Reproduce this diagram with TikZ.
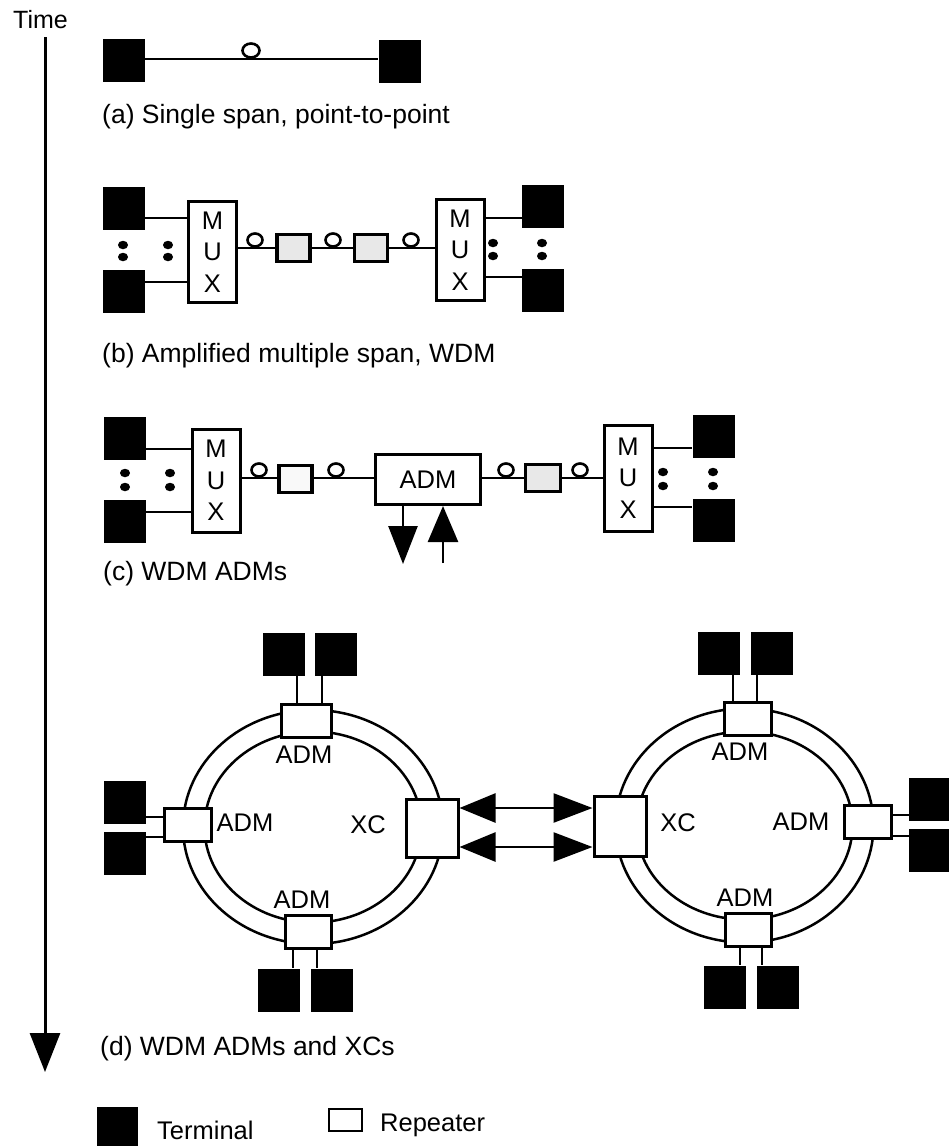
\documentclass[tikz,border=0pt]{standalone}
\usepackage{fontspec}
\setmainfont{Liberation Sans}
\usetikzlibrary{shapes.geometric,arrows.meta}
\begin{document}
\begin{tikzpicture}[x=1pt,y=-1pt,
  term/.style={rectangle,fill=black,inner sep=0pt,minimum width=42pt,minimum height=43pt},
  mux/.style={rectangle,draw,line width=3pt,fill=white,inner sep=0pt,minimum width=48pt,minimum height=101pt,align=center,font=\fontsize{25.5}{31.5}\selectfont},
  rep/.style={rectangle,draw,line width=3.2pt,fill=gray!18,inner sep=0pt,minimum width=33pt,minimum height=27pt},
  nbox/.style={rectangle,draw,line width=3pt,fill=white,inner sep=0pt,minimum width=47pt,minimum height=33pt},
  xcbox/.style={rectangle,draw,line width=3pt,fill=white,inner sep=0pt,minimum width=52pt,minimum height=58pt},
  coil/.style={ellipse,draw,line width=2.6pt,inner sep=0pt,minimum width=15pt,minimum height=13pt},
  dotn/.style={ellipse,fill=black,inner sep=0pt,minimum width=10pt,minimum height=8.5pt},
  conn/.style={line width=2.6pt},
  ring/.style={ellipse,draw,line width=2.5pt,inner sep=0pt},
  lbl/.style={inner sep=0pt,anchor=base west,font=\fontsize{26.5}{30}\selectfont},
  txt/.style={inner sep=0pt,font=\fontsize{25.5}{30}\selectfont},
  bigtip/.style={-{Triangle[length=38pt,width=29pt]}}
]
\useasboundingbox (0,0) rectangle (948,1146);

% ---------- time axis ----------
\node[lbl,font=\fontsize{25}{30}\selectfont] (timel) at (13,28) {Time};
\coordinate (t0) at (45,37);
\coordinate (t1) at (45,1072);
\draw[line width=3pt,-{Triangle[length=39pt,width=30pt]}] (t0) -- (t1);

% ---------- (a) ----------
\node[term] (a1) at (123.5,60) {};
\node[term] (a2) at (399.5,61) {};
\coordinate (ya) at (0,59);
\draw[conn] (a1.east |- ya) -- (a2.west |- ya);
\node[coil,minimum width=17pt,minimum height=14pt] (ca) at (251,50.5) {};
\node[lbl] (la) at (102,123) {(a) Single span, point-to-point};

% ---------- (b) ----------
\node[term] (bL1) at (123.5,208) {};
\node[term] (bL2) at (123.5,291.5) {};
\node[mux] (muxb1) at (212.5,252) {M\\U\\X};
\node[mux] (muxb2) at (460,250) {M\\U\\X};
\node[term] (bR1) at (543,206.5) {};
\node[term] (bR2) at (543,290) {};
\coordinate (yb1) at (0,218);
\coordinate (yb2) at (0,282);
\coordinate (yb3) at (0,277);
\coordinate (ybm) at (0,248);
\draw[conn] (bL1.east |- yb1) -- (muxb1.west |- yb1);
\draw[conn] (bL2.east |- yb2) -- (muxb1.west |- yb2);
\draw[conn] (muxb2.east |- yb1) -- (bR1.west |- yb1);
\draw[conn] (muxb2.east |- yb3) -- (bR2.west |- yb3);
\draw[conn] (muxb1.east |- ybm) -- (muxb2.west |- ybm);
\node[rep] (rb1) at (293.5,248) {};
\node[rep] (rb2) at (371,248) {};
\node[coil] (cb1) at (255,240) {};
\node[coil] (cb2) at (333,240) {};
\node[coil] (cb3) at (411,240) {};
\node[dotn] (db1) at (123,245) {};
\node[dotn] (db2) at (123,257) {};
\node[dotn] (db3) at (168,245) {};
\node[dotn] (db4) at (168,257) {};
\node[dotn] (db5) at (493,243) {};
\node[dotn] (db6) at (493,256) {};
\node[dotn] (db7) at (542,243) {};
\node[dotn] (db8) at (542,256) {};
\node[lbl] (lb) at (102,362) {(b) Amplified multiple span, WDM};

% ---------- (c) ----------
\node[term] (cL1) at (125,438) {};
\node[term] (cL2) at (125,521) {};
\node[mux,minimum height=103pt] (muxc1) at (216,480.5) {M\\U\\X};
\node[mux,minimum height=106pt] (muxc2) at (628,478) {M\\U\\X};
\node[term] (cR1) at (713.5,436.5) {};
\node[term] (cR2) at (713.5,520) {};
\coordinate (yc1) at (0,449);
\coordinate (yc2) at (0,512);
\coordinate (yc3) at (0,448);
\coordinate (yc4) at (0,507);
\coordinate (ycm) at (0,478);
\draw[conn] (cL1.east |- yc1) -- (muxc1.west |- yc1);
\draw[conn] (cL2.east |- yc2) -- (muxc1.west |- yc2);
\draw[conn] (muxc2.east |- yc3) -- (cR1.west |- yc3);
\draw[conn] (muxc2.east |- yc4) -- (cR2.west |- yc4);
\node[nbox,minimum width=105pt,minimum height=50pt,font=\fontsize{25.5}{30}\selectfont] (admc) at (428,479.5) {ADM};
\draw[conn] (muxc1.east |- ycm) -- (admc.west |- ycm);
\draw[conn] (admc.east |- ycm) -- (muxc2.west |- ycm);
\node[rep,fill=gray!5] (rc1) at (295.5,479) {};
\node[rep,minimum width=35pt] (rc2) at (543,478) {};
\node[coil] (cc1) at (259,470) {};
\node[coil] (cc2) at (336,470) {};
\node[coil] (cc3) at (506,470) {};
\node[coil] (cc4) at (580,470) {};
\coordinate (cd1) at (403,564);
\coordinate (cu1) at (443,563);
\draw[conn,bigtip] (cd1 |- admc.south) -- (cd1);
\draw[conn,-{Triangle[length=36pt,width=30pt]}] (cu1) -- (cu1 |- admc.south);
\node[dotn] (dc1) at (125,473) {};
\node[dotn] (dc2) at (125,487) {};
\node[dotn] (dc3) at (170,473) {};
\node[dotn] (dc4) at (170,487) {};
\node[dotn] (dc5) at (663,472) {};
\node[dotn] (dc6) at (663,486) {};
\node[dotn] (dc7) at (713,472) {};
\node[dotn] (dc8) at (713,486) {};
\node[lbl] (lc) at (103,580) {(c) WDM ADMs};

% ---------- (d) left ring ----------
\node[ring,minimum width=260pt,minimum height=234pt] (ringLo) at (313,827) {};
\node[ring,minimum width=217pt,minimum height=191pt] (ringLi) at (313,827) {};
\node[term] (dLt1) at (283.5,654) {};
\node[term] (dLt2) at (336,654) {};
\node[nbox,minimum width=50pt] (admLt) at (306,720.5) {};
\coordinate (xl1) at (297,0);
\coordinate (xl2) at (322,0);
\draw[conn] (xl1 |- dLt1.south) -- (xl1 |- admLt.north);
\draw[conn] (xl2 |- dLt2.south) -- (xl2 |- admLt.north);
\node[txt] (tLt) at (304,755) {ADM};

\node[nbox] (admLl) at (187.5,825) {};
\node[term] (dLl1) at (124.5,802.5) {};
\node[term] (dLl2) at (124.5,853.5) {};
\coordinate (yl1) at (0,817);
\coordinate (yl2) at (0,837);
\draw[conn] (dLl1.east |- yl1) -- (admLl.west |- yl1);
\draw[conn] (dLl2.east |- yl2) -- (admLl.west |- yl2);
\node[txt] (tLl) at (245,823) {ADM};

\node[xcbox] (xcL) at (432,828) {};
\node[txt] (tXL) at (368,825) {XC};

\node[nbox,minimum width=46pt] (admLb) at (308,931.5) {};
\node[txt] (tLb) at (302,900) {ADM};
\node[term] (dLb1) at (279,990) {};
\node[term] (dLb2) at (332,990) {};
\coordinate (xl3) at (293,0);
\coordinate (xl4) at (317,0);
\draw[conn] (xl3 |- admLb.south) -- (xl3 |- dLb1.north);
\draw[conn] (xl4 |- admLb.south) -- (xl4 |- dLb2.north);

% ---------- (d) right ring ----------
\node[ring,minimum width=258pt,minimum height=234pt] (ringRo) at (744.5,825.5) {};
\node[ring,minimum width=216pt,minimum height=188pt] (ringRi) at (744.5,825.5) {};
\node[xcbox,minimum height=60pt] (xcR) at (620,826) {};
\node[txt] (tXR) at (678,823) {XC};

\node[nbox] (admRt) at (747.5,719) {};
\node[term] (dRt1) at (718.5,653.5) {};
\node[term] (dRt2) at (771.5,653.5) {};
\coordinate (xr1) at (733,0);
\coordinate (xr2) at (757,0);
\draw[conn] (xr1 |- dRt1.south) -- (xr1 |- admRt.north);
\draw[conn] (xr2 |- dRt2.south) -- (xr2 |- admRt.north);
\node[txt] (tRt) at (740,752) {ADM};

\node[nbox] (admRr) at (867.5,822) {};
\node[txt] (tRr) at (801,822) {ADM};
\node[term] (dRr1) at (930,799) {};
\node[term] (dRr2) at (930,850.5) {};
\coordinate (yr1) at (0,815);
\coordinate (yr2) at (0,836);
\draw[conn] (admRr.east |- yr1) -- (dRr1.west |- yr1);
\draw[conn] (admRr.east |- yr2) -- (dRr2.west |- yr2);

\node[nbox,minimum width=46pt] (admRb) at (748,929.5) {};
\node[txt] (tRb) at (745,898) {ADM};
\node[term] (dRb1) at (725,987) {};
\node[term] (dRb2) at (777.5,987) {};
\coordinate (xr3) at (740,0);
\coordinate (xr4) at (762,0);
\draw[conn] (xr3 |- admRb.south) -- (xr3 |- dRb1.north);
\draw[conn] (xr4 |- admRb.south) -- (xr4 |- dRb2.north);

% ---------- XC links ----------
\coordinate (ya1) at (0,808);
\coordinate (ya2) at (0,847);
\draw[conn,{Triangle[length=36pt,width=29pt]}-{Triangle[length=39pt,width=29pt]}] (xcL.east |- ya1) -- (xcR.west |- ya1);
\draw[conn,{Triangle[length=36pt,width=29pt]}-{Triangle[length=39pt,width=29pt]}] (xcL.east |- ya2) -- (xcR.west |- ya2);

\node[lbl] (ld) at (100,1055) {(d) WDM ADMs and XCs};

% ---------- legend ----------
\node[term,minimum width=41pt,minimum height=40pt] (legT) at (117.5,1127) {};
\node[lbl,font=\fontsize{25.5}{30}\selectfont] (legTt) at (157,1139) {Terminal};
\node[rep,fill=white,line width=2.6pt,minimum width=33pt,minimum height=22pt] (legR) at (345.5,1120) {};
\node[lbl,font=\fontsize{25.5}{30}\selectfont] (legRt) at (380,1131) {Repeater};
\end{tikzpicture}
\end{document}
